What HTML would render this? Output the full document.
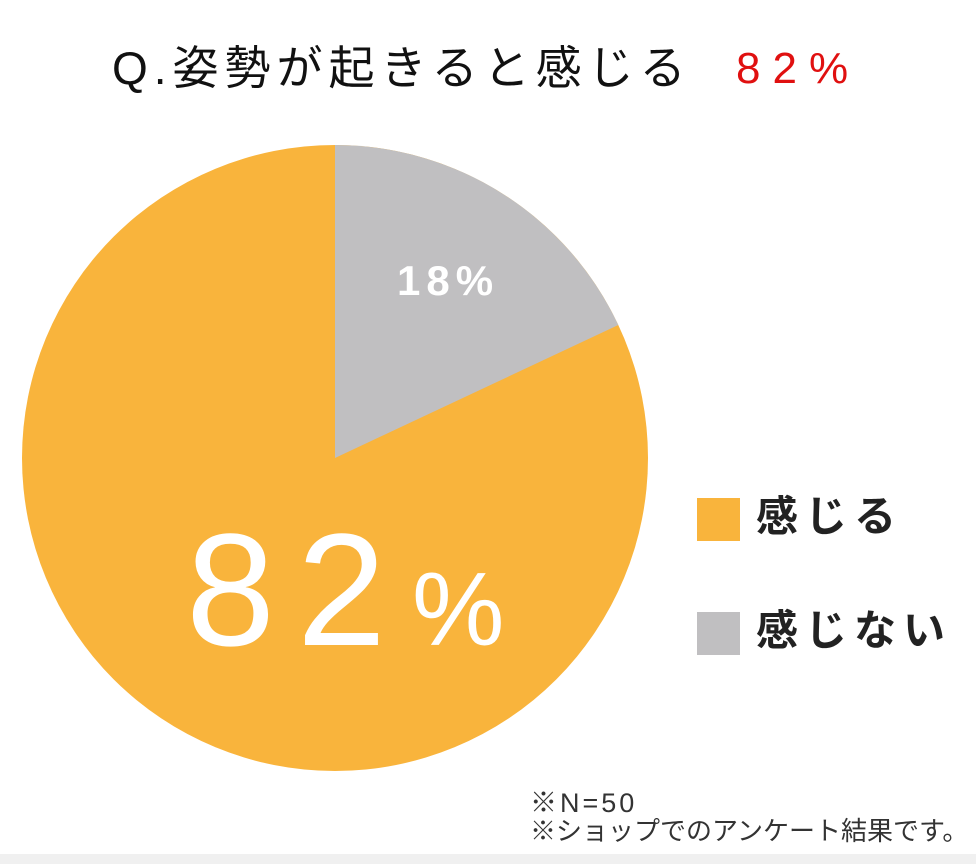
<!DOCTYPE html>
<html><head><meta charset="utf-8"><style>
body{margin:0;width:976px;height:864px;background:#fff;position:relative;overflow:hidden;font-family:"Liberation Sans","Noto Sans CJK JP",sans-serif}
.t{position:absolute;white-space:nowrap;line-height:1}
</style></head><body>
<div class="t" style="left:112px;top:45px;font-size:46px;color:#111;letter-spacing:6px">Q.姿勢が起きると感じる</div>
<div class="t" style="left:736px;top:47px;font-size:44px;color:#e01010;letter-spacing:12px">82%</div>
<svg style="position:absolute;left:0;top:0" width="976" height="864">
<circle cx="335" cy="458" r="313" fill="#f9b43c"/>
<path d="M335 458 L335 145 A313 313 0 0 1 618.3 325 Z" fill="#c0bfc1"/>
<rect x="697" y="498" width="43" height="43" fill="#f9b43c"/>
<rect x="697" y="612" width="43" height="43" fill="#c0bfc1"/>
<rect x="0" y="854" width="976" height="10" fill="#f0f0f0"/>
</svg>
<div class="t" style="left:397px;top:260px;font-size:42px;font-weight:bold;color:#fff;letter-spacing:6px">18%</div>
<div class="t" style="left:186px;top:510px;font-size:160px;color:#fff;letter-spacing:22px">82<span style="font-size:104px;margin-left:4px;letter-spacing:0">%</span></div>
<div class="t" style="left:756px;top:496px;font-size:42px;font-weight:bold;color:#222;letter-spacing:7px">感じる</div>
<div class="t" style="left:756px;top:610px;font-size:42px;font-weight:bold;color:#222;letter-spacing:7px">感じない</div>
<div class="t" style="left:530px;top:790px;font-size:27px;color:#333;letter-spacing:3px">※N=50</div>
<div class="t" style="left:530px;top:818px;font-size:26px;color:#333">※ショップでのアンケート結果です。</div>
</body></html>
